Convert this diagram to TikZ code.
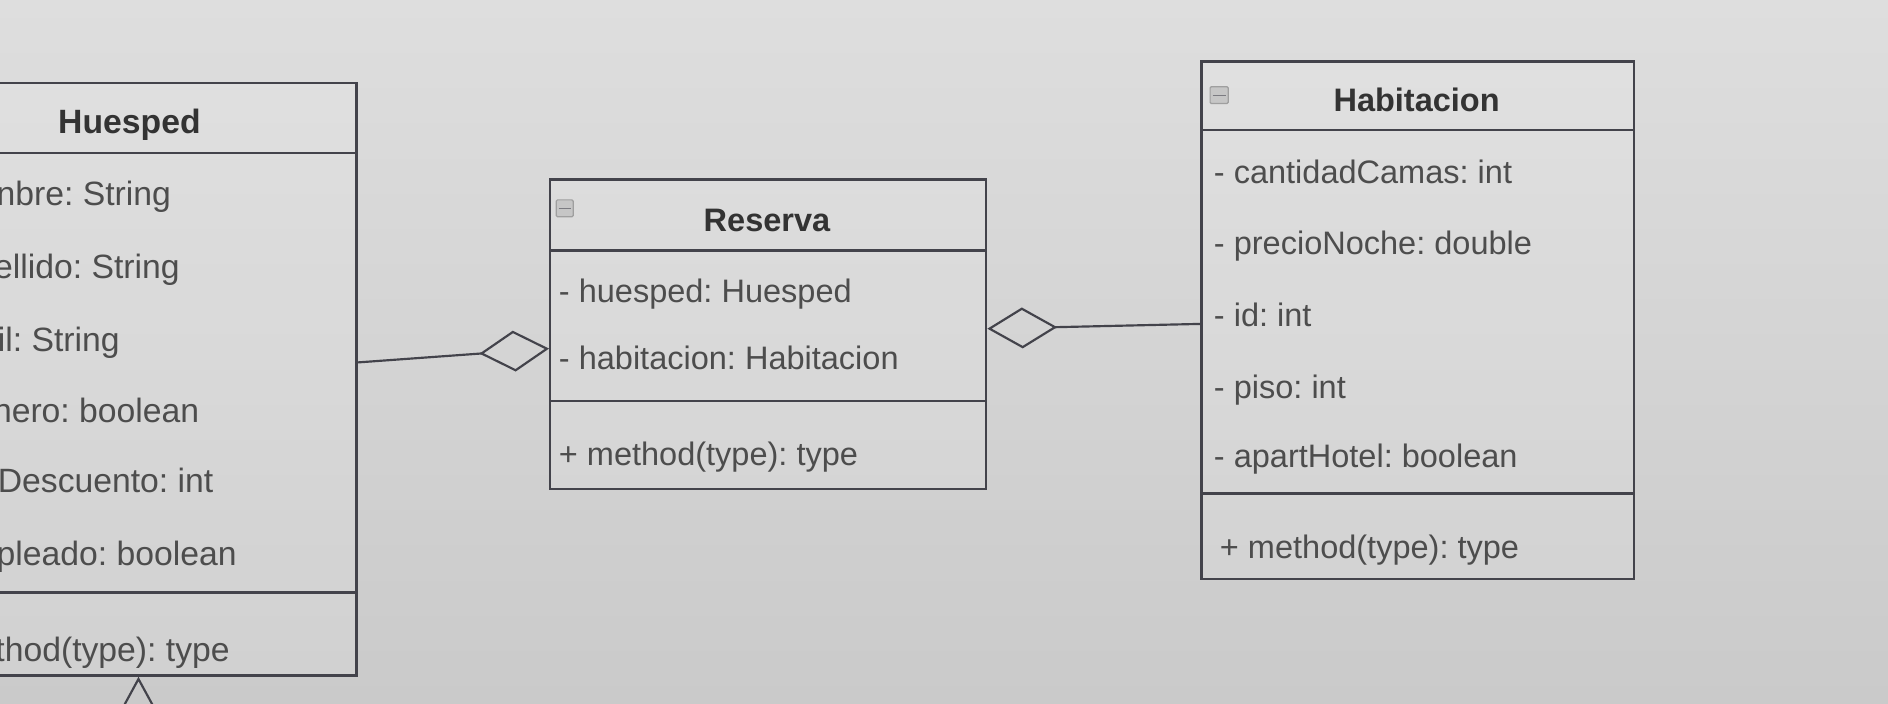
\documentclass[tikz,border=0pt]{standalone}
\usepackage{fontspec}
\setmainfont{Liberation Sans}
\usetikzlibrary{arrows.meta}
\frenchspacing
\definecolor{bgtop}{HTML}{DEDEDE}
\definecolor{bgbot}{HTML}{CACACA}
\definecolor{linegray}{HTML}{43434B}
\definecolor{textgray}{HTML}{4D4D4D}
\definecolor{headgray}{HTML}{333333}
\tikzset{
  classbox/.style={draw=linegray, line width=2pt, fill=white, fill opacity=0.12, inner sep=0pt, anchor=north west},
  sepline/.style={draw=linegray, line width=2pt},
  attr/.style={anchor=base west, inner sep=0pt, text=textgray, font=\fontsize{27}{32}\selectfont},
  head/.style={anchor=base, inner sep=0pt, text=headgray, font=\fontsize{27}{32}\selectfont\bfseries},
  iconbox/.style={draw=gray!75, fill=gray!45, line width=1pt, rounded corners=1pt},
  aggreg/.style={draw=linegray, line width=1.8pt, -{Diamond[open, length=58pt, width=34pt, line width=1.8pt]}},
  inherit/.style={draw=linegray, line width=1.8pt, -{Triangle[open, length=28pt, width=30pt, line width=1.8pt]}}
}
\begin{document}
\begin{tikzpicture}[x=1pt, y=-1pt]

        \useasboundingbox (0, 0) rectangle (1568, 584);
        \clip (0, 0) rectangle (1568, 584);
        \shade[top color=bgtop, bottom color=bgbot] (0, 0) rectangle (1568, 584); % screen

        % class boxes
        \node[classbox, minimum width=375pt, minimum height=492pt] (huesped) at (-80, 68) {};
        \node[classbox, minimum width=362pt, minimum height=257pt] (reserva) at (456, 148) {};
        \node[classbox, minimum width=359pt, minimum height=430pt] (habitacion) at (997, 50) {};

        \draw[sepline] (-80, 127) -- (295, 127); % Huesped header
        \draw[sepline] (-80, 492) -- (295, 492); % Huesped methods
        \draw[sepline] (456, 208) -- (818, 208); % Reserva header
        \draw[sepline] (456, 333) -- (818, 333); % Reserva methods
        \draw[sepline] (997, 108) -- (1356, 108); % Habitacion header
        \draw[sepline] (997, 410) -- (1356, 410); % Habitacion methods

        % collapse icons
        \draw[iconbox] (462, 166) rectangle (476, 180);
        \draw[linegray!70, line width=1pt] (464, 173) -- (474, 173);
        \draw[iconbox] (1005, 72) rectangle (1020, 86);
        \draw[linegray!70, line width=1pt] (1007, 79) -- (1018, 79);

        % titles
        \node[head, font=\fontsize{28}{32}\selectfont\bfseries] (huespedT) at (107.5, 111) {Huesped};
        \node[head] (reservaT) at (637, 192) {Reserva};
        \node[head] (habitacionT) at (1176.5, 93) {Habitacion};

        % Huesped members (cut by the photo edge)
        \foreach \x/\y/\t in {-3/171/nbre: String, -5/231/ellido: String, -2/292/il: String, -6/351/nero: boolean, -2/409/Descuento: int, -3/470/pleado: boolean, -4/549/thod(type): type} {
            \node[attr, font=\fontsize{28}{32}\selectfont] (hue-\y) at (\x, \y) {\t};
        }

        % Reserva members
        \node[attr] (resA) at (464, 251) {- huesped: Huesped};
        \node[attr] (resB) at (464, 307) {- habitacion: Habitacion};
        \node[attr] (resM) at (464, 387) {+ method(type): type};

        % Habitacion members
        \foreach \y/\t in {152/- cantidadCamas: int, 211/- precioNoche: double, 271/- id: int, 331/- piso: int, 388/- apartHotel: boolean} {
            \node[attr] (hab-\y) at (1008, \y) {\t};
        }
        \node[attr] (habM) at (1013, 464) {+ method(type): type};

        % relations
        \draw[aggreg] ([yshift=14pt]huesped.east) -- ([yshift=-12pt]reserva.west);
        \draw[aggreg] ([yshift=-3pt]habitacion.west) -- ([yshift=4.5pt]reserva.east);
        \coordinate (sub) at (115, 650);
        \draw[inherit] (sub) -- (sub |- huesped.south);

    \end{tikzpicture}
\end{document}
